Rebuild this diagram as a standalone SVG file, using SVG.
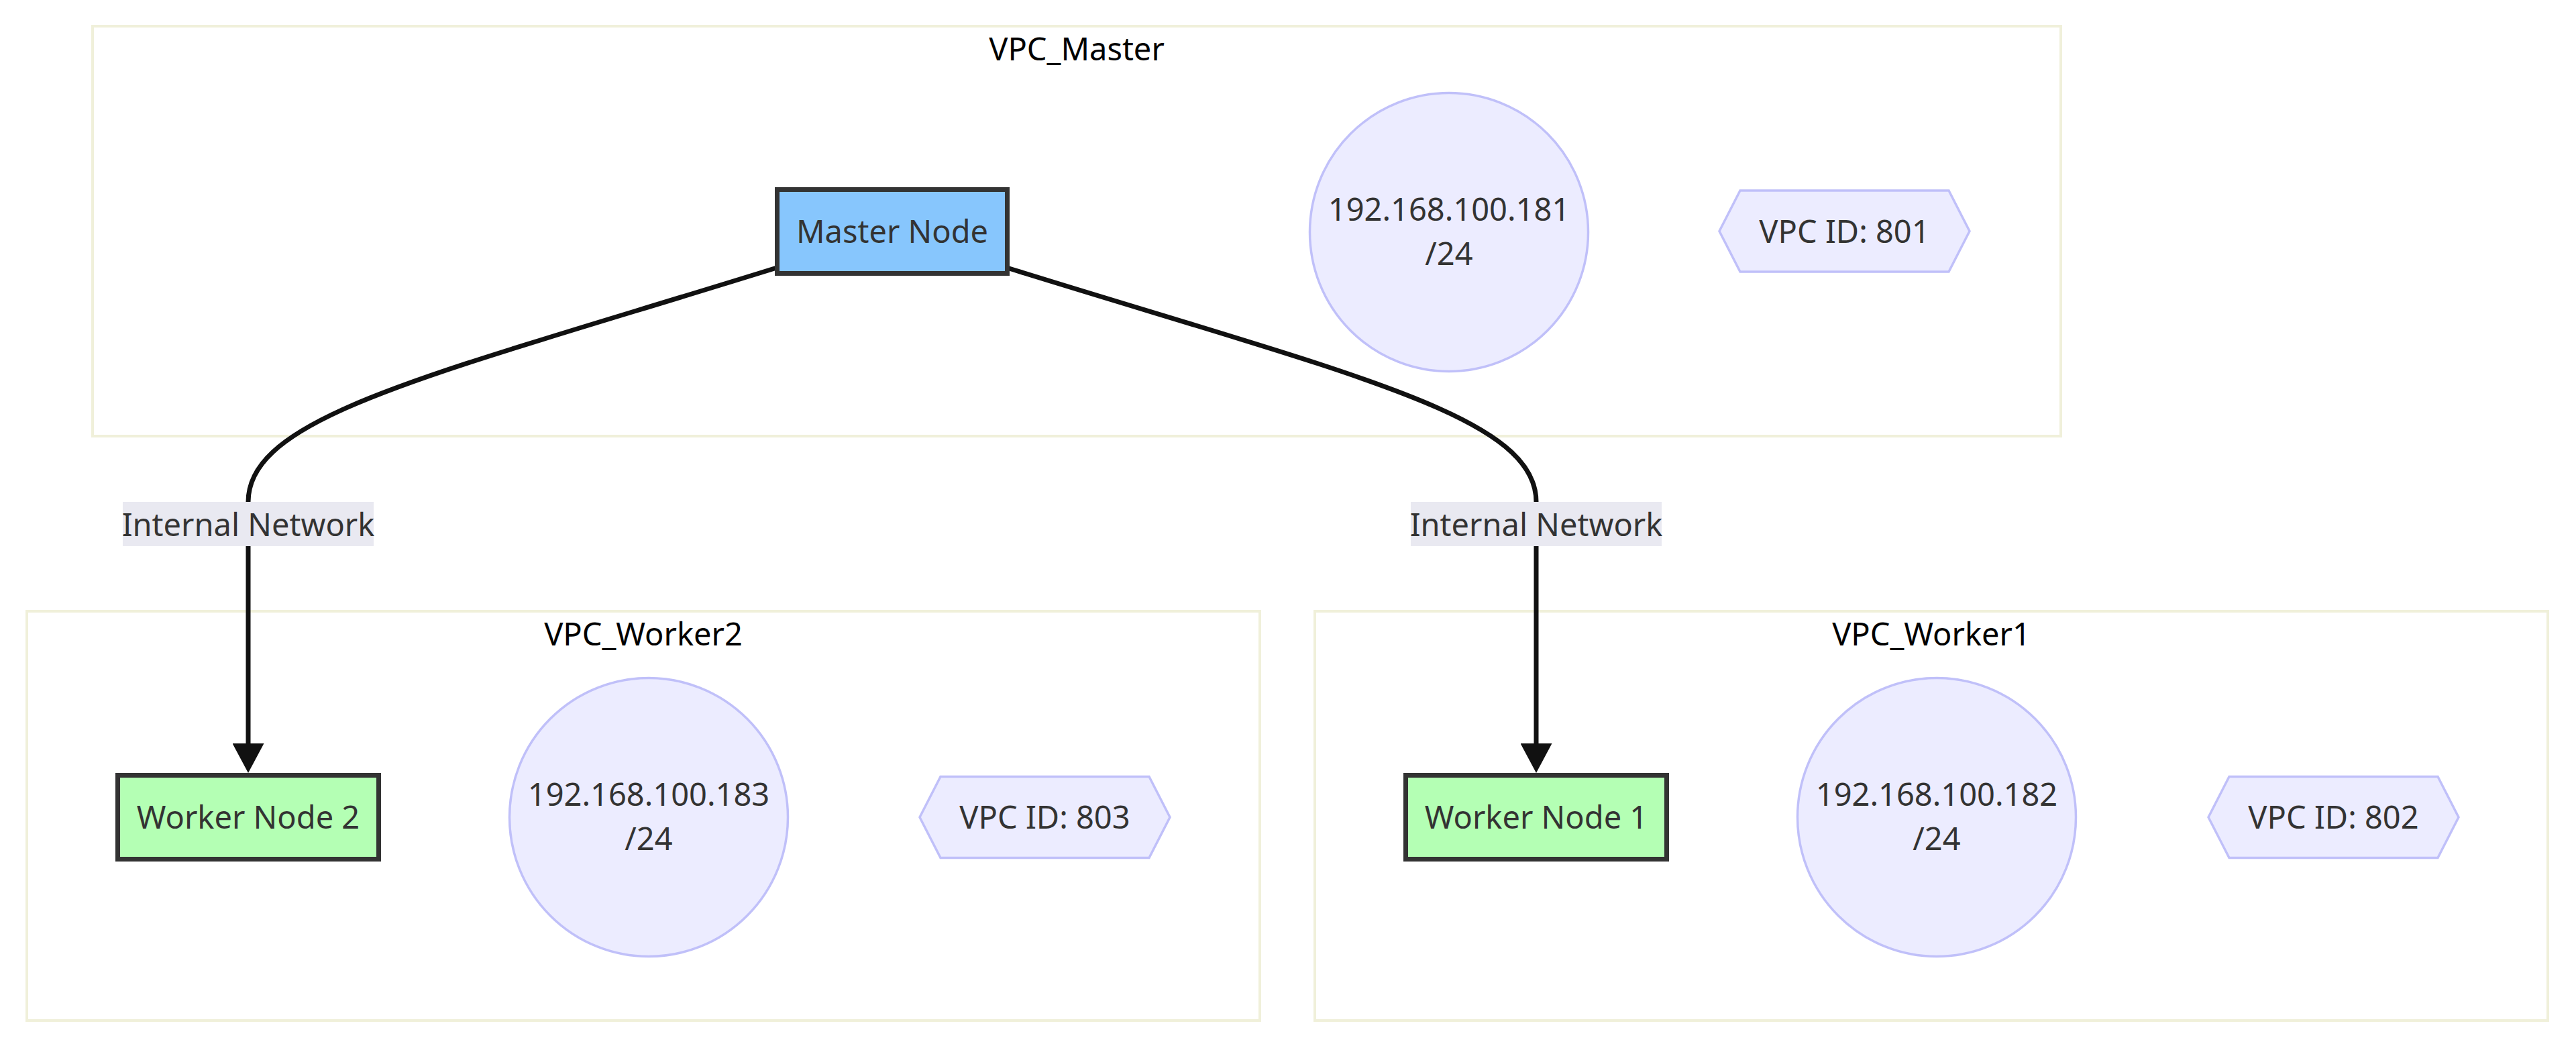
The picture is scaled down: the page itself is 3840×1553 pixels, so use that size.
<svg xmlns="http://www.w3.org/2000/svg" width="3840" height="1553" viewBox="0 0 3840 1553">
<style>
text{font-family:"Noto Sans","Open Sans",sans-serif;font-size:47px;text-anchor:middle;fill:#333}
.cluster{fill:#ffffff;stroke:#f0f0da;stroke-width:4}
.ctitle{fill:#000}
.vm{fill:#87c6fd;stroke:#333;stroke-width:7}
.wk{fill:#b4ffb4;stroke:#333;stroke-width:7}
.ip{fill:#ececff;stroke:#c0c0f9;stroke-width:3.5}
.edge{fill:none;stroke:#111;stroke-width:7}
.lbl{fill:#e9e9f1}
</style>
<defs>
<marker id="arrow" viewBox="0 0 44 47" refX="0" refY="23.5" markerWidth="44" markerHeight="47" markerUnits="userSpaceOnUse" orient="auto">
<path d="M0,0 L44,23.5 L0,47 z" fill="#111"/>
</marker>
</defs>
<rect width="3840" height="1553" fill="#ffffff"/>
<g id="VPC_Master">
<rect class="cluster" x="138" y="39" width="2934" height="611"/>
<text class="ctitle" x="1605" y="90">VPC_Master</text>
</g>
<g id="VPC_Worker2">
<rect class="cluster" x="40" y="911" width="1838" height="610"/>
<text class="ctitle" x="959" y="962">VPC_Worker2</text>
</g>
<g id="VPC_Worker1">
<rect class="cluster" x="1960" y="911" width="1838" height="610"/>
<text class="ctitle" x="2879" y="962">VPC_Worker1</text>
</g>
<g id="connectors">
<path class="edge" d="M1158,399 C640,560 370,620 370,748 L370,1108" marker-end="url(#arrow)"/>
<path class="edge" d="M1501,399 C2019,560 2290,620 2290,748 L2290,1108" marker-end="url(#arrow)"/>
<g id="label-left">
<rect class="lbl" x="183" y="748" width="374" height="66"/>
<text x="370" y="799">Internal Network</text>
</g>
<g id="label-right">
<rect class="lbl" x="2103" y="748" width="374" height="66"/>
<text x="2290" y="799">Internal Network</text>
</g>
</g>
<g id="MasterNode">
<rect class="vm" x="1158.5" y="282.5" width="343" height="125"/>
<text x="1330" y="362">Master Node</text>
</g>
<g id="MasterIP">
<circle class="ip" cx="2160" cy="346" r="207.5"/>
<text x="2160" y="329">192.168.100.181</text>
<text x="2160" y="395">/24</text>
</g>
<g id="MasterVPC">
<polygon class="ip" points="2563,344.5 2594,284 2905,284 2936,344.5 2905,405 2594,405"/>
<text x="2749.5" y="361.5">VPC ID: 801</text>
</g>
<g id="Worker2Node">
<rect class="wk" x="175.5" y="1155.5" width="389" height="125"/>
<text x="370" y="1235">Worker Node 2</text>
</g>
<g id="Worker2IP">
<circle class="ip" cx="967" cy="1218" r="207.5"/>
<text x="967" y="1201">192.168.100.183</text>
<text x="967" y="1267">/24</text>
</g>
<g id="Worker2VPC">
<polygon class="ip" points="1371,1218 1402,1157.5 1713,1157.5 1744,1218 1713,1278.5 1402,1278.5"/>
<text x="1557.5" y="1235">VPC ID: 803</text>
</g>
<g id="Worker1Node">
<rect class="wk" x="2095.5" y="1155.5" width="389" height="125"/>
<text x="2290" y="1235">Worker Node 1</text>
</g>
<g id="Worker1IP">
<circle class="ip" cx="2887" cy="1218" r="207.5"/>
<text x="2887" y="1201">192.168.100.182</text>
<text x="2887" y="1267">/24</text>
</g>
<g id="Worker1VPC">
<polygon class="ip" points="3292,1218 3323,1157.5 3634,1157.5 3665,1218 3634,1278.5 3323,1278.5"/>
<text x="3478.5" y="1235">VPC ID: 802</text>
</g>
</svg>
